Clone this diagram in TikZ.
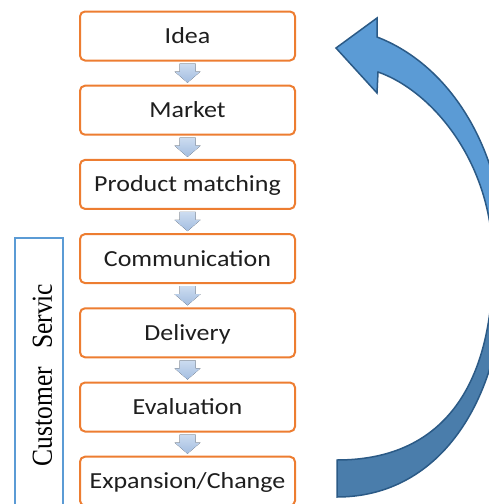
\documentclass[tikz,border=0pt]{standalone}
\usepackage{fontspec}
\newfontfamily\boxfont[FakeStretch=1.13]{Carlito}
\newfontfamily\csfont[FakeStretch=0.88]{Liberation Serif}
\usetikzlibrary{calc}
\definecolor{boxorange}{HTML}{ED7D31}
\definecolor{textgray}{HTML}{1E1E1E}
\definecolor{arrtop}{HTML}{CCDCF0}
\definecolor{arrbot}{HTML}{A3BDE0}
\definecolor{csblue}{HTML}{5B9BD5}
\definecolor{bigLight}{HTML}{5B9BD5}
\definecolor{bigDark}{HTML}{4A7DAB}
\definecolor{bigLine}{HTML}{2B5A86}
\begin{document}
\begin{tikzpicture}[x=1pt,y=-1pt,
  stepbox/.style={draw=boxorange, line width=2pt, rounded corners=5pt,
    minimum width=215pt, minimum height=49pt, fill=white, inner sep=0pt,
    font=\boxfont\fontsize{23}{26}\selectfont, text height=15pt, text depth=0pt, text=textgray},
  smallarr/.style={top color=arrtop, bottom color=arrbot},
  cstext/.style={rotate=90, anchor=base, font=\csfont\fontsize{29}{33}\selectfont, text=black, inner sep=0pt}
]
\useasboundingbox (0,0) rectangle (489,504);
\clip (0,0) rectangle (489,504);

% customer service frame
\draw[csblue, line width=2pt] (15,520) -- (15,238) -- (63,238) -- (63,520);
\node[cstext] (cs) at (52,375) {Customer\hspace{18pt}Servic};

% steps
\node[stepbox] (n1) at (187.5,36) {Idea};
\node[stepbox] (n2) at (187.5,110.2) {Market};
\node[stepbox] (n3) at (187.5,184.4) {Product matching};
\node[stepbox] (n4) at (187.5,258.6) {Communication};
\node[stepbox] (n5) at (187.5,332.8) {Delivery};
\node[stepbox] (n6) at (187.5,407) {Evaluation};
\node[stepbox] (n7) at (187.5,481.2) {Expansion/Change};

\foreach \a/\b in {n1/n2,n2/n3,n3/n4,n4/n5,n5/n6,n6/n7}{
  \fill[smallarr] ($(\a.south)+(-8,2)$) -- ($(\a.south)+(8,2)$) -- ($(\a.south)+(8,10)$)
    -- ($(\a.south)+(13,10)$) -- ($(\b.north)+(0,-2)$) -- ($(\a.south)+(-13,10)$)
    -- ($(\a.south)+(-8,10)$) -- cycle;
}

% big curved arrow
\coordinate (tip) at (336,48);
\coordinate (barbT) at (377,18);
\coordinate (barbB) at (377,93);
\coordinate (oS) at (377,37);
\coordinate (oM) at (505,262);
\coordinate (oE) at (337,497);
\coordinate (iS) at (337,460);
\coordinate (iM) at (493,262);
\coordinate (iE) at (378,72);
\fill[bigLight] (tip) -- (barbT) -- (oS)
  .. controls (450,65) and (505,150) .. (oM) -- (iM)
  .. controls (493,160) and (430,90) .. (iE) -- (barbB) -- cycle;
\fill[bigDark] (oM) .. controls (505,400) and (440,497) .. (oE) -- (iS)
  .. controls (440,460) and (493,390) .. (iM) -- cycle;
\draw[bigLine, line width=1.5pt, line join=miter] (tip) -- (barbT) -- (oS)
  .. controls (450,65) and (505,150) .. (oM)
  .. controls (505,400) and (440,497) .. (oE) -- (iS)
  .. controls (440,460) and (493,390) .. (iM)
  .. controls (493,160) and (430,90) .. (iE) -- (barbB) -- cycle;
\end{tikzpicture}
\end{document}
